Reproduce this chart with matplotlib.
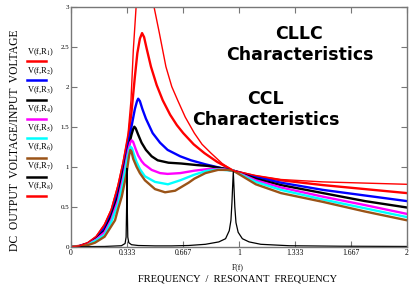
import numpy as np
import matplotlib.pyplot as plt
from matplotlib.lines import Line2D

plt.rcParams['mathtext.fontset'] = 'stix'

# curve data (frequency ratio, gain)
f_r1 = [0, 0.05, 0.1, 0.15, 0.2, 0.24, 0.28, 0.31, 0.34, 0.36, 0.38, 0.395, 0.41, 0.423, 0.435,
        0.45, 0.476, 0.51, 0.546, 0.59, 0.63, 0.668, 0.73, 0.794, 0.87, 0.966, 1.1, 1.25, 1.5,
        1.75, 2.0]
v_r1 = [0, 0.01, 0.045, 0.12, 0.27, 0.45, 0.75, 1.03, 1.35, 1.68, 2.12, 2.42, 2.6, 2.67, 2.62,
        2.48, 2.25, 2.02, 1.83, 1.65, 1.52, 1.42, 1.28, 1.17, 1.06, 0.95, 0.88, 0.83, 0.77,
        0.72, 0.67]

f_r2 = [0, 0.05, 0.1, 0.15, 0.2, 0.24, 0.28, 0.31, 0.34, 0.36, 0.38, 0.393, 0.40, 0.41, 0.425,
        0.446, 0.486, 0.53, 0.575, 0.65, 0.714, 0.8, 0.9, 0.966, 1.1, 1.25, 1.5, 1.75, 2.0]
v_r2 = [0, 0.008, 0.04, 0.11, 0.23, 0.41, 0.68, 0.97, 1.28, 1.5, 1.72, 1.82, 1.85, 1.82, 1.72,
        1.6, 1.42, 1.3, 1.21, 1.13, 1.08, 1.03, 0.98, 0.95, 0.87, 0.8, 0.71, 0.64, 0.57]

f_r3 = [0, 0.05, 0.1, 0.15, 0.2, 0.24, 0.28, 0.31, 0.34, 0.36, 0.37, 0.377, 0.385, 0.40, 0.42,
        0.446, 0.48, 0.516, 0.58, 0.655, 0.75, 0.813, 0.9, 0.966, 1.1, 1.25, 1.5, 1.75, 2.0]
v_r3 = [0, 0.007, 0.035, 0.1, 0.2, 0.38, 0.63, 0.92, 1.22, 1.4, 1.47, 1.5, 1.48, 1.4, 1.3,
        1.21, 1.13, 1.08, 1.05, 1.04, 1.02, 1.01, 0.98, 0.95, 0.85, 0.77, 0.67, 0.57, 0.49]

f_r4 = [0, 0.05, 0.1, 0.15, 0.2, 0.24, 0.28, 0.31, 0.34, 0.352, 0.361, 0.37, 0.385, 0.40, 0.42,
        0.436, 0.48, 0.53, 0.575, 0.65, 0.734, 0.813, 0.9, 0.966, 1.1, 1.25, 1.5, 1.75, 2.0]
v_r4 = [0, 0.006, 0.03, 0.09, 0.18, 0.34, 0.58, 0.86, 1.2, 1.3, 1.33, 1.31, 1.22, 1.14, 1.07,
        1.03, 0.96, 0.92, 0.91, 0.92, 0.95, 0.97, 0.97, 0.95, 0.83, 0.74, 0.625, 0.52, 0.41]

f_r5 = [0, 0.05, 0.1, 0.15, 0.2, 0.24, 0.28, 0.31, 0.335, 0.348, 0.355, 0.363, 0.375, 0.39,
        0.41, 0.44, 0.5, 0.577, 0.65, 0.734, 0.81, 0.88, 0.966, 1.1, 1.25, 1.5, 1.75, 2.0]
v_r5 = [0, 0.005, 0.025, 0.08, 0.15, 0.31, 0.53, 0.8, 1.1, 1.22, 1.25, 1.23, 1.15, 1.06,
        0.97, 0.88, 0.81, 0.78, 0.83, 0.9, 0.95, 0.965, 0.95, 0.81, 0.71, 0.59, 0.48, 0.37]

f_r6 = [0, 0.05, 0.1, 0.143, 0.2, 0.262, 0.28, 0.302, 0.331, 0.345, 0.353, 0.36, 0.37, 0.39,
        0.41, 0.44, 0.5, 0.56, 0.62, 0.7, 0.734, 0.8, 0.875, 0.93, 0.966, 1.1, 1.25, 1.5, 1.75,
        2.0]
v_r6 = [0, 0.004, 0.02, 0.05, 0.125, 0.33, 0.47, 0.625, 0.92, 1.13, 1.21, 1.19, 1.1, 1.0,
        0.92, 0.83, 0.72, 0.68, 0.7, 0.8, 0.85, 0.92, 0.96, 0.96, 0.95, 0.78, 0.67, 0.56, 0.44,
        0.33]

f_r7 = [0, 0.2, 0.3, 0.322, 0.328, 0.331, 0.333, 0.335, 0.338, 0.344, 0.36, 0.4, 0.5, 0.6, 0.7,
        0.8, 0.88, 0.92, 0.942, 0.952, 0.958, 0.962, 0.966, 0.97, 0.975, 0.982, 0.995, 1.02,
        1.06, 1.13, 1.3, 1.6, 2.0]
v_r7 = [0, 0.003, 0.012, 0.04, 0.12, 0.5, 0.98, 0.5, 0.12, 0.05, 0.025, 0.015, 0.01, 0.01, 0.015,
        0.03, 0.06, 0.1, 0.2, 0.33, 0.55, 0.75, 0.94, 0.75, 0.5, 0.3, 0.18, 0.1,
        0.06, 0.03, 0.012, 0.006, 0.003]

f_r8 = [0, 0.05, 0.1, 0.15, 0.2, 0.24, 0.28, 0.31, 0.34, 0.357, 0.371, 0.39, 0.41, 0.44, 0.47,
        0.494, 0.526, 0.565, 0.6, 0.635, 0.68, 0.734, 0.78, 0.833, 0.9, 0.966, 1.1, 1.25, 1.5,
        1.75, 2.0]
v_r8 = [0, 0.01, 0.05, 0.13, 0.28, 0.47, 0.77, 1.06, 1.42, 1.83, 2.46, 3.08, 3.6, 3.9, 3.5,
        3.0, 2.67, 2.25, 2.0, 1.83, 1.62, 1.42, 1.28, 1.17, 1.04, 0.95, 0.89, 0.84, 0.81,
        0.795, 0.78]

x_ticks = [0, 1/3, 2/3, 1, 4/3, 5/3, 2]
x_tick_labels = ['0', '0.333', '0.667', '1', '1.333', '1.667', '2']
y_ticks = [0, 0.5, 1, 1.5, 2, 2.5, 3]
y_tick_labels = ['0', '0.5', '1', '1.5', '2', '2.5', '3']

series = [(f_r1, v_r1, 'red', 1.7), (f_r2, v_r2, 'blue', 1.7), (f_r3, v_r3, 'black', 1.7),
          (f_r4, v_r4, 'magenta', 1.7), (f_r5, v_r5, 'cyan', 1.7), (f_r6, v_r6, '#9a5418', 1.7),
          (f_r7, v_r7, 'black', 0.9), (f_r8, v_r8, 'red', 1.0)]

fig = plt.figure(figsize=(4.1, 2.88), dpi=100)
ax = fig.add_axes([71/410, 41.3/288, 336/410, 240/288])

for f, v, c, lw in series:
    ax.plot(f, v, color=c, lw=lw, solid_joinstyle='round')

ax.set_xlim(0, 2)
ax.set_ylim(0, 3)
ax.set_xticks(x_ticks)
ax.set_xticklabels(x_tick_labels, family='Liberation Serif', fontsize=5.5)
ax.set_yticks(y_ticks)
ax.set_yticklabels(y_tick_labels, family='Liberation Serif', fontsize=5)
ax.tick_params(direction='in', top=True, right=True, length=4, color='#777777', pad=1.5)
for s in ax.spines.values():
    s.set_color('#777777')
    s.set_linewidth(1.0)

ax.text(1.36, 2.53, 'CLLC\nCharacteristics', ha='center', va='center', fontsize=12.5,
        fontweight='bold', family='DejaVu Sans', linespacing=1.2)
ax.text(1.16, 1.71, 'CCL\nCharacteristics', ha='center', va='center', fontsize=12.5,
        fontweight='bold', family='DejaVu Sans', linespacing=1.2)

# axis titles
fig.text(238/410, 1 - 267/288, 'F(f)', ha='center', va='center', fontsize=5.5,
         family='Liberation Serif')
fig.text(238/410, 1 - 279/288, 'FREQUENCY  /  RESONANT  FREQUENCY', ha='center', va='center',
         fontsize=7.6, family='Liberation Serif')
fig.text(15/410, 1 - 140/288, 'DC  OUTPUT  VOLTAGE/INPUT  VOLTAGE', ha='center', va='center',
         rotation=90, fontsize=8.4, family='Liberation Serif')

# legend on the left
leg_colors = ['red', 'blue', 'black', 'magenta', 'cyan', '#9a5418', 'black', 'red']
for i, c in enumerate(leg_colors):
    ty = 51.7 + i * 19.15
    ly = 61 + i * 19.3
    fig.text(41/410, 1 - ty/288, 'V(f,R$_{%d}$)' % (i + 1), ha='center', va='center',
             fontsize=6, family='Liberation Serif')
    fig.add_artist(Line2D([26.7/410, 45.7/410], [1 - ly/288, 1 - ly/288], color=c, lw=1.8,
                          transform=fig.transFigure))

fig.savefig('out.png', dpi=100)
